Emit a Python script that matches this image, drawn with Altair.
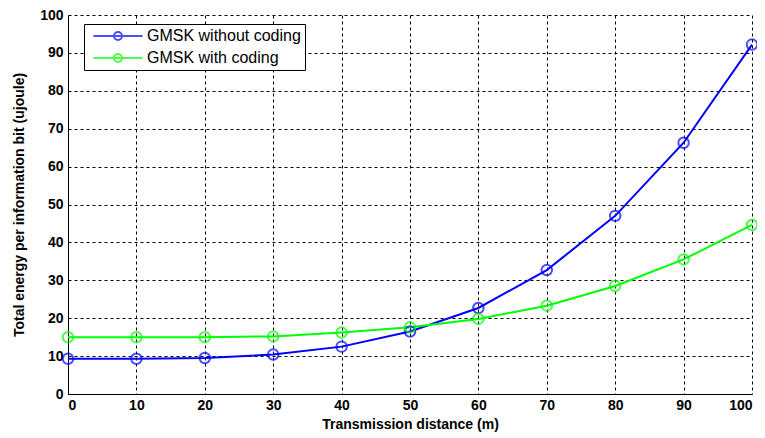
import altair as alt
import pandas as pd

distance = [0, 10, 20, 30, 40, 50, 60, 70, 80, 90, 100]
without_coding = [9.3, 9.3, 9.5, 10.4, 12.5, 16.5, 22.7, 32.7, 47.0, 66.3, 92.2]
with_coding = [15.0, 15.0, 15.0, 15.2, 16.2, 17.6, 19.8, 23.3, 28.5, 35.5, 44.6]
y_ticks = [0, 10, 20, 30, 40, 50, 60, 70, 80, 90, 100]
series_names = ["GMSK without coding", "GMSK with coding"]
series_colors = ["#0000ff", "#00ff00"]

rows = []
for d, a, b in zip(distance, without_coding, with_coding):
    rows.append({"x": d, "y": a, "s": series_names[0]})
    rows.append({"x": d, "y": b, "s": series_names[1]})
df = pd.DataFrame(rows)

color = alt.Color(
    "s:N",
    scale=alt.Scale(domain=series_names, range=series_colors),
    sort=series_names,
    legend=alt.Legend(
        title=None,
        orient="none",
        legendX=16,
        legendY=9,
        symbolType="M-4.9,0L4.9,0M-0.8,0A0.8,0.8,0,1,1,0.8,0A0.8,0.8,0,1,1,-0.8,0",
        symbolSize=100,
        symbolStrokeWidth=2,
        symbolFillColor="transparent",
        symbolOffset=22,
        labelOffset=21,
        labelFont="Liberation Sans",
        labelFontSize=16,
        labelColor="black",
        strokeColor="black",
        fillColor="white",
        padding=4,
        rowPadding=6,
        labelLimit=400,
    ),
)

xenc = alt.X(
    "x:Q",
    scale=alt.Scale(domain=[0, 100], nice=False),
    axis=alt.Axis(values=distance, title="Transmission distance (m)", labelOverlap=False),
)
yenc = alt.Y(
    "y:Q",
    scale=alt.Scale(domain=[0, 100], nice=False),
    axis=alt.Axis(values=y_ticks, title="Total energy per information bit (ujoule)",
                  labelOverlap=False),
)

lines = alt.Chart(df).mark_line(strokeWidth=2).encode(x=xenc, y=yenc, color=color)
points = alt.Chart(df).mark_point(shape="circle", size=110, strokeWidth=2, filled=False).encode(
    x=xenc, y=yenc, color=color
)

chart = (
    alt.layer(lines, points)
    .properties(width=684, height=379, autosize=alt.AutoSizeParams(type="none"),
                padding={"left": 60, "top": 7, "right": 5, "bottom": 44})
    .configure(background="white")
    .configure_view(stroke=None)
    .configure_axis(
        grid=True,
        gridColor="black",
        gridDash=[3, 3],
        gridWidth=1,
        gridOpacity=1,
        domainColor="black",
        domainWidth=1,
        ticks=False,
        labelFont="Liberation Sans",
        labelFontSize=14,
        labelFontWeight="bold",
        labelColor="black",
        titleFont="Liberation Sans",
        titleFontSize=14,
        titleFontWeight="bold",
        titleColor="black",
        labelPadding=5,
    )
    .configure_axisX(titlePadding=5, labelPadding=4)
    .configure_axisY(titlePadding=13)
)

chart.save("out.html", embed_options={"renderer": "svg", "actions": False})
